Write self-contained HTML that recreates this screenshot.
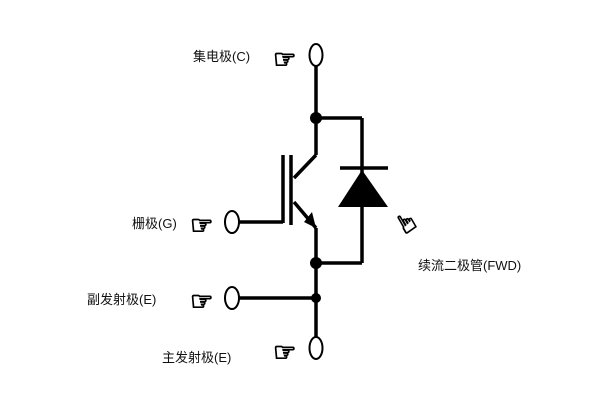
<!DOCTYPE html>
<html><head><meta charset="utf-8"><style>
body{margin:0;background:#fff;width:600px;height:400px;overflow:hidden}
svg text{font-family:"Liberation Sans","Noto Sans CJK SC",sans-serif;font-size:13px;fill:#111}
.h{font-family:"DejaVu Sans",sans-serif;font-size:26px;stroke:#000;stroke-width:1.2}
</style></head><body>
<svg width="600" height="400" viewBox="0 0 600 400">
<g stroke="#000" stroke-width="3.5" fill="none">
<line x1="316" y1="66" x2="316" y2="155"/>
<line x1="316" y1="118" x2="362" y2="118"/>
<line x1="362" y1="118" x2="362" y2="263"/>
<line x1="316" y1="155" x2="294" y2="178"/>
<line x1="294" y1="202" x2="316" y2="228"/>
<line x1="316" y1="228" x2="316" y2="337"/>
<line x1="316" y1="263" x2="362" y2="263"/>
<line x1="238" y1="298" x2="316" y2="298"/>
<line x1="238" y1="222" x2="283" y2="222"/>
<line x1="283" y1="155" x2="283" y2="223"/>
<line x1="291" y1="155" x2="291" y2="225"/>
<line x1="340" y1="168" x2="388" y2="168"/>
</g>
<polygon points="362,170 338,207 388,207" fill="#000"/>
<polygon points="316,228 304,222 312,212" fill="#000"/>
<g fill="#000"><circle cx="316" cy="118" r="6"/><circle cx="316" cy="263" r="6"/><circle cx="316" cy="298" r="5"/></g>
<g fill="#fff" stroke="#000" stroke-width="2">
<ellipse cx="316" cy="55" rx="6.5" ry="11"/>
<ellipse cx="232" cy="222" rx="7" ry="11"/>
<ellipse cx="232" cy="298" rx="7" ry="11"/>
<ellipse cx="316" cy="348" rx="6.5" ry="11"/>
</g>
<text class="h" x="273" y="68">☞</text>
<text class="h" x="190" y="234">☞</text>
<text class="h" x="190" y="310">☞</text>
<text class="h" x="273" y="361">☞</text>
<text class="h" x="392" y="232" transform="rotate(-120 405 222)">☞</text>
<text x="193" y="61">集电极(C)</text>
<text x="132" y="228">栅极(G)</text>
<text x="87" y="304">副发射极(E)</text>
<text x="162" y="362">主发射极(E)</text>
<text x="418" y="270">续流二极管(FWD)</text>
</svg>
</body></html>
